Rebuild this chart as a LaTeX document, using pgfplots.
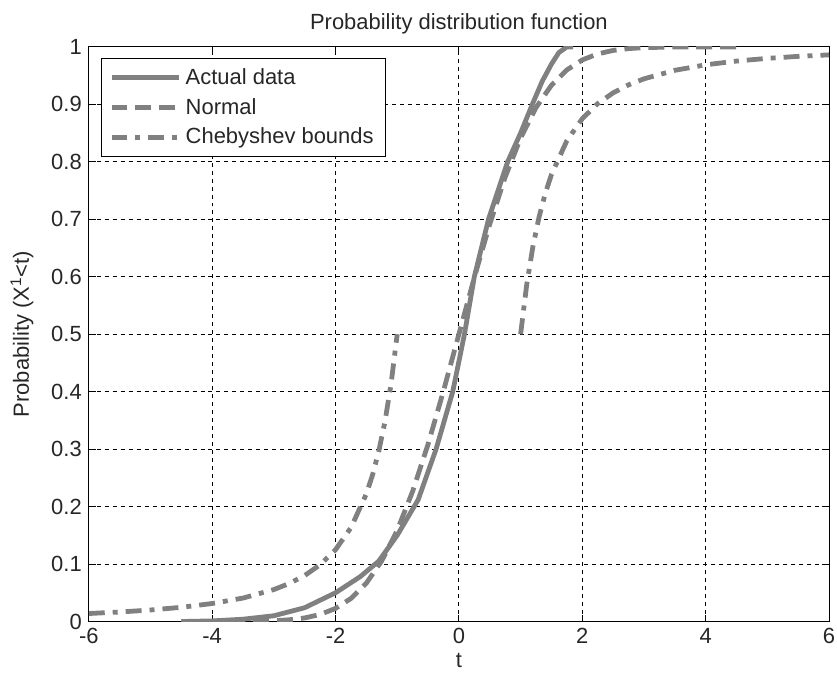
\documentclass[border=0pt]{standalone}
\usepackage{fontspec}
\setmainfont{Liberation Sans}
\usepackage{pgfplots}
\pgfplotsset{compat=1.18}
\usetikzlibrary{calc}
\definecolor{curvegray}{RGB}{128,128,128}

\begin{document}
\begin{tikzpicture}
\begin{axis}[
  name=ax,
  width=371pt,height=288pt,
  scale only axis,
  xmin=-6,xmax=6,ymin=0,ymax=1,
  xtick={-6,-4,-2,0,2,4,6},
  ytick={0,0.1,0.2,0.3,0.4,0.5,0.6,0.7,0.8,0.9,1},
  yticklabels={0,0.1,0.2,0.3,0.4,0.5,0.6,0.7,0.8,0.9,1},
  xticklabels={-6,-4,-2,0,2,4,6},
  tick align=inside,
  major tick length=3.5pt,
  tick style={black,line width=0.5pt},
  axis line style={black,line width=0.5pt},
  grid=major,
  grid style={black,line width=0.45pt,dash pattern=on 2pt off 2pt},
  /pgf/number format/assume math mode=true,
  tick label style={font=\fontsize{11}{13}\selectfont,text=black!85},
  label style={font=\fontsize{11}{13}\selectfont,text=black!85},
  title style={font=\fontsize{11}{13}\selectfont,text=black!85,yshift=-3pt},
  title={Probability distribution function},
  xlabel={t},
  ylabel={Probability (X\textsuperscript{1}<t)},
  xlabel style={yshift=2pt},
  ylabel style={yshift=2pt},
  legend style={at={(0.016,0.981)},anchor=north west,draw=black,line width=0.5pt,
    font=\fontsize{11}{13}\selectfont,text=black!85,
    row sep=1.5pt,inner xsep=4pt,inner ysep=3pt},
  legend cell align=left,
  legend image code/.code={\draw[#1] (0cm,0cm) -- (34pt,0cm);},
  every axis plot/.append style={curvegray,line width=2.4pt,mark=none},
]
\addplot[solid] coordinates {
(-4.5,0.000) (-4.0,0.001) (-3.5,0.004) (-3.0,0.010) (-2.5,0.024) (-2.0,0.050)
(-1.6,0.078) (-1.3,0.105) (-1.0,0.150) (-0.66,0.212) (-0.37,0.300) (-0.10,0.400)
(0.09,0.500) (0.25,0.600) (0.48,0.700) (0.79,0.800) (1.00,0.850) (1.19,0.900)
(1.35,0.940) (1.50,0.970) (1.62,0.990) (1.75,1.000) (1.85,1.000)
};
\addlegendentry{Actual data}
\addplot[dash pattern=on 8pt off 4pt] coordinates {
(-4.5,0.0000) (-4.0,0.0000) (-3.5,0.0002) (-3.0,0.0013) (-2.75,0.0030) (-2.5,0.0062)
(-2.25,0.0122) (-2.0,0.0228) (-1.75,0.0401) (-1.5,0.0668) (-1.25,0.1057) (-1.0,0.1587)
(-0.75,0.2266) (-0.5,0.3085) (-0.25,0.4013) (0.0,0.5000) (0.25,0.5987) (0.5,0.6915)
(0.75,0.7734) (1.0,0.8413) (1.25,0.8944) (1.5,0.9332) (1.75,0.9599) (2.0,0.9773)
(2.25,0.9878) (2.5,0.9938) (2.75,0.9970) (3.0,0.9987) (3.5,0.9998) (4.0,1.0000) (4.5,1.0000)
};
\addlegendentry{Normal}
\addplot[dash pattern=on 8pt off 4pt on 2.5pt off 4pt] coordinates {
(-6.0,0.0139) (-5.5,0.0165) (-5.0,0.0200) (-4.5,0.0247) (-4.0,0.0313) (-3.5,0.0408)
(-3.0,0.0556) (-2.75,0.0661) (-2.5,0.0800) (-2.25,0.0988) (-2.0,0.1250) (-1.75,0.1633)
(-1.5,0.2222) (-1.4,0.2551) (-1.3,0.2959) (-1.2,0.3472) (-1.1,0.4132) (-1.0,0.5000)
};
\addlegendentry{Chebyshev bounds}
\addplot[dash pattern=on 8pt off 4pt on 2.5pt off 4pt,forget plot] coordinates {
(1.0,0.5000) (1.1,0.5868) (1.2,0.6528) (1.3,0.7041) (1.4,0.7449) (1.5,0.7778)
(1.75,0.8367) (2.0,0.8750) (2.25,0.9012) (2.5,0.9200) (2.75,0.9339) (3.0,0.9444)
(3.5,0.9592) (4.0,0.9688) (4.5,0.9753) (5.0,0.9800) (5.5,0.9835) (6.0,0.9861)
};
\end{axis}
\pgfresetboundingbox
\path ($(ax.south west)+(-44.5pt,-27.5pt)$) rectangle ($(ax.north east)+(4pt,23.5pt)$);
\end{tikzpicture}
\end{document}
